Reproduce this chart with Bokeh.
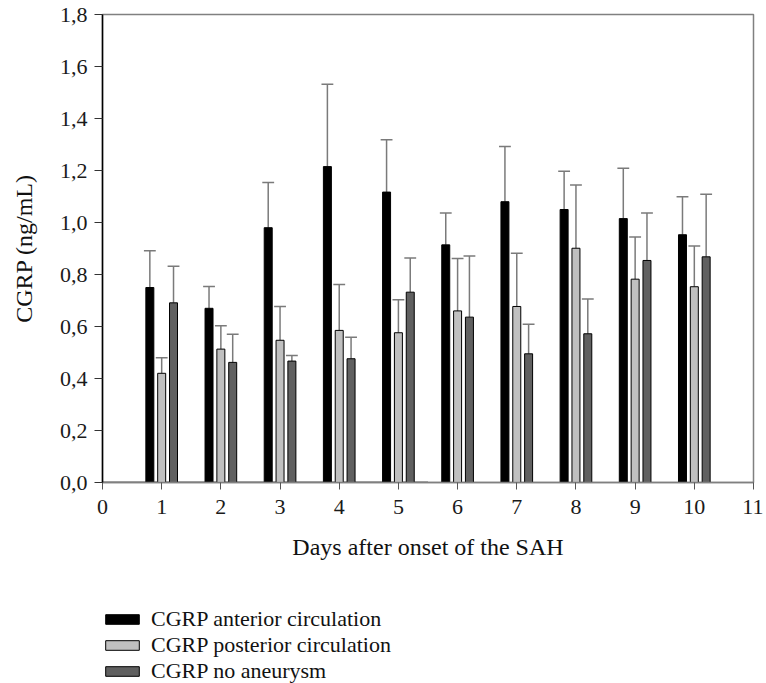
import numpy as np
from bokeh.plotting import figure
from bokeh.layouts import column
from bokeh.models import FixedTicker, Legend, LegendItem, Range1d
from bokeh.embed import file_html
from bokeh.resources import INLINE

days = [1, 2, 3, 4, 5, 6, 7, 8, 9, 10]
anterior_mean = [0.75, 0.67, 0.98, 1.215, 1.117, 0.914, 1.08, 1.05, 1.015, 0.953]
anterior_sd = [0.141, 0.084, 0.174, 0.317, 0.201, 0.123, 0.212, 0.147, 0.194, 0.146]
posterior_mean = [0.42, 0.513, 0.547, 0.585, 0.576, 0.66, 0.677, 0.901, 0.782, 0.753]
posterior_sd = [0.06, 0.09, 0.13, 0.177, 0.127, 0.202, 0.205, 0.243, 0.162, 0.157]
noaneu_mean = [0.691, 0.462, 0.467, 0.476, 0.732, 0.636, 0.495, 0.572, 0.854, 0.868]
noaneu_sd = [0.141, 0.108, 0.021, 0.083, 0.131, 0.235, 0.114, 0.134, 0.183, 0.241]

series_names = ["CGRP anterior circulation", "CGRP posterior circulation", "CGRP no aneurysm"]
y_ticks = [0.0, 0.2, 0.4, 0.6, 0.8, 1.0, 1.2, 1.4, 1.6, 1.8]
y_tick_labels = ["0,0", "0,2", "0,4", "0,6", "0,8", "1,0", "1,2", "1,4", "1,6", "1,8"]
x_ticks = list(range(0, 12))

FONT = "'Liberation Serif', 'Times New Roman', serif"
colors = ["#000000", "#c0c0c0", "#606060"]
offsets = [-0.2, 0.0, 0.2]
bar_w = 0.135
cap_w = 0.2

p = figure(frame_width=651, frame_height=468, output_backend="svg", toolbar_location=None,
           x_range=Range1d(0, 11), y_range=Range1d(0, 1.8),
           min_border_left=102, min_border_top=14, min_border_right=10, min_border_bottom=88)
p.xgrid.visible = False
p.ygrid.visible = False
p.outline_line_color = "#808080"
p.outline_line_width = 1.5
p.background_fill_color = "white"
p.border_fill_color = "white"

# axes
p.yaxis.ticker = FixedTicker(ticks=y_ticks)
p.yaxis.major_label_overrides = {t: l for t, l in zip(y_ticks, y_tick_labels)}
p.xaxis.ticker = FixedTicker(ticks=x_ticks)
for ax in (p.xaxis, p.yaxis):
    ax.minor_tick_line_color = None
    ax.major_tick_in = 0
    ax.major_label_text_font = FONT
    ax.major_label_text_font_size = "22px"
    ax.major_label_text_color = "#1a1a1a"
    ax.axis_label_text_font = FONT
    ax.axis_label_text_font_size = "24px"
    ax.axis_label_text_font_style = "normal"
    ax.axis_label_text_color = "#111111"
p.yaxis.axis_line_color = "#000000"
p.yaxis.axis_line_width = 1.5
p.yaxis.major_tick_line_color = "#333333"
p.yaxis.major_tick_out = 8
p.yaxis.major_label_standoff = 7
p.yaxis.axis_label = "CGRP (ng/mL)"
p.yaxis.axis_label_standoff = 20
p.xaxis.axis_line_color = "#808080"
p.xaxis.axis_line_width = 1.5
p.xaxis.major_tick_line_color = "#555555"
p.xaxis.major_tick_out = 7
p.xaxis.major_label_standoff = 10
p.xaxis.axis_label = "Days after onset of the SAH"
p.xaxis.axis_label_standoff = 17

# darker first half of baseline, as in the original
p.segment(x0=[0], y0=[0], x1=[5.5], y1=[0], line_color="black", line_width=1.5)

means = [anterior_mean, posterior_mean, noaneu_mean]
sds = [anterior_sd, posterior_sd, noaneu_sd]
d = np.array(days, dtype=float)
for m, s, c, off in zip(means, sds, colors, offsets):
    m = np.array(m)
    s = np.array(s)
    x = d + off
    top = m + s
    p.segment(x0=x, y0=m, x1=x, y1=top, line_color="#7a7a7a", line_width=1.5)
    p.segment(x0=x - cap_w / 2, y0=top, x1=x + cap_w / 2, y1=top, line_color="#7a7a7a", line_width=1.5)
    p.vbar(x=x, top=m, bottom=0, width=bar_w, fill_color=c, line_color="black", line_width=1)

# legend panel below the chart: an axis-less figure whose y range lies above the bars,
# so only the legend (with its glyph swatches) is visible
lg = figure(frame_width=763, frame_height=113, output_backend="svg", toolbar_location=None,
            x_range=Range1d(0, 11), y_range=Range1d(5, 6),
            x_axis_type=None, y_axis_type=None,
            min_border_left=0, min_border_top=0, min_border_right=0, min_border_bottom=0)
lg.outline_line_color = None
lg.background_fill_color = "white"
lg.border_fill_color = "white"
leg_renderers = []
for m, c in zip(means, colors):
    r = lg.vbar(x=days, top=m, bottom=0, width=bar_w,
                fill_color=c, line_color="black", line_width=1)
    leg_renderers.append(r)

items = [LegendItem(label=n, renderers=[r]) for n, r in zip(series_names, leg_renderers)]
legend = Legend(items=items, location=(101, -1), orientation="vertical",
                glyph_width=42, glyph_height=12, label_text_font=FONT,
                label_text_font_size="22px", label_text_color="#111111",
                label_standoff=8, spacing=-4, padding=0, margin=0,
                border_line_alpha=0, background_fill_alpha=0,
                label_height=20)
lg.add_layout(legend, "center")

layout = column(p, lg, spacing=0)
open("out.html", "w").write(file_html(layout, INLINE))
